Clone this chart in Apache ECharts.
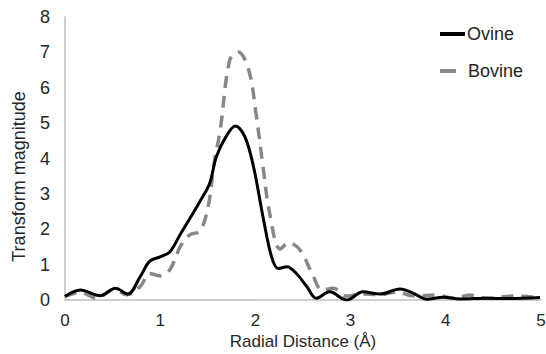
<!DOCTYPE html>
<html>
<head>
<meta charset="utf-8">
<script src="https://cdn.jsdelivr.net/npm/echarts@6/dist/echarts.min.js"></script>
<style>
html,body{margin:0;padding:0;background:#fff;}
#c{width:546px;height:354px;}
</style>
</head>
<body>
<div id="c"></div>
<script>
var seriesNames = ['Ovine', 'Bovine'];
var xTicks = [0, 1, 2, 3, 4, 5];
var yTicks = [0, 1, 2, 3, 4, 5, 6, 7, 8];

var ovineX = [0, 0.16, 0.37, 0.53, 0.66, 0.79, 0.89, 1.0, 1.1, 1.21, 1.42, 1.52, 1.59, 1.70, 1.79, 1.89, 1.98, 2.08, 2.17, 2.24, 2.33, 2.43, 2.54, 2.64, 2.78, 2.96, 3.13, 3.31, 3.52, 3.66, 3.80, 3.97, 4.15, 4.43, 4.68, 4.99];
var ovineY = [0.1, 0.28, 0.12, 0.33, 0.17, 0.66, 1.1, 1.22, 1.36, 1.85, 2.8, 3.3, 4.05, 4.66, 4.92, 4.61, 3.77, 2.35, 1.22, 0.89, 0.94, 0.75, 0.38, 0.05, 0.23, 0.0, 0.23, 0.17, 0.31, 0.19, 0.02, 0.08, 0.03, 0.05, 0.04, 0.07];

var bovineX = [0, 0.16, 0.33, 0.51, 0.65, 0.79, 0.89, 1.0, 1.1, 1.21, 1.31, 1.42, 1.51, 1.56, 1.63, 1.73, 1.82, 1.93, 2.01, 2.08, 2.15, 2.26, 2.35, 2.47, 2.61, 2.70, 2.82, 2.96, 3.1, 3.31, 3.48, 3.66, 3.90, 4.09, 4.25, 4.43, 4.71, 4.96];
var bovineY = [0.1, 0.22, 0.05, 0.3, 0.15, 0.38, 0.75, 0.68, 0.85, 1.5, 1.84, 1.95, 2.73, 3.77, 4.8, 6.78, 7.01, 6.5, 5.2, 3.77, 2.45, 1.44, 1.62, 1.41, 0.66, 0.28, 0.33, 0.11, 0.17, 0.15, 0.23, 0.11, 0.14, 0.05, 0.14, 0.05, 0.11, 0.07];

function zip(xs, ys) { return xs.map(function (x, i) { return [x, ys[i]]; }); }

var FONT = 'Liberation Sans, Arial, sans-serif';
var TXT = '#262626';
var FS = 18;
var FSX = 17;
function legendFor(name, top, w, textPad) {
  return {
    show: true,
    orient: 'horizontal',
    left: 440,
    top: top,
    padding: 0,
    itemWidth: w,
    itemHeight: 4,
    icon: 'rect',
    textStyle: { fontFamily: FONT, fontSize: FS, color: TXT, padding: [0, 0, 0, textPad] },
    data: [name]
  };
}
var chart = echarts.init(document.getElementById('c'), null, { renderer: 'svg' });
chart.setOption({
  animation: false,
  backgroundColor: '#fff',
  grid: { left: 65, right: 5, top: 17, bottom: 54, containLabel: false, outerBoundsMode: 'none' },
  legend: [legendFor(seriesNames[0], 25, 25, -3), legendFor(seriesNames[1], 62, 16, 7)],
  xAxis: {
    type: 'value', min: 0, max: 5, interval: 1,
    name: 'Radial Distance (Å)', nameLocation: 'middle', nameGap: 33, nameMoveOverlap: false,
    nameTextStyle: { fontFamily: FONT, fontSize: FSX, color: TXT, lineHeight: 17 },
    axisLine: { show: true, lineStyle: { color: '#bfbfbf', width: 1.5 } },
    axisTick: { show: false },
    splitLine: { show: false },
    axisLabel: { fontFamily: FONT, fontSize: FSX, color: TXT, margin: 12, lineHeight: 17,
      formatter: function (v) { return xTicks.indexOf(v) >= 0 ? String(v) : ''; } }
  },
  yAxis: {
    type: 'value', min: 0, max: 8, interval: 1,
    name: 'Transform magnitude', nameLocation: 'middle', nameGap: 37, nameMoveOverlap: false,
    nameTextStyle: { fontFamily: FONT, fontSize: FS, color: TXT, padding: [0, 0, 0, -36] },
    axisLine: { show: true, lineStyle: { color: '#bfbfbf', width: 1.5 } },
    axisTick: { show: false },
    splitLine: { show: false },
    axisLabel: { fontFamily: FONT, fontSize: FS, color: TXT, margin: 15,
      formatter: function (v) { return yTicks.indexOf(v) >= 0 ? String(v) : ''; } }
  },
  series: [
    {
      name: seriesNames[1], type: 'line', data: zip(bovineX, bovineY),
      smooth: 0.35, showSymbol: false, symbol: 'none',
      lineStyle: { color: '#878787', width: 3.5, type: [12, 8] },
      itemStyle: { color: '#878787' }, z: 2
    },
    {
      name: seriesNames[0], type: 'line', data: zip(ovineX, ovineY),
      smooth: 0.35, showSymbol: false, symbol: 'none',
      lineStyle: { color: '#000', width: 3 },
      itemStyle: { color: '#000' }, z: 3
    }
  ]
});
</script>
</body>
</html>
